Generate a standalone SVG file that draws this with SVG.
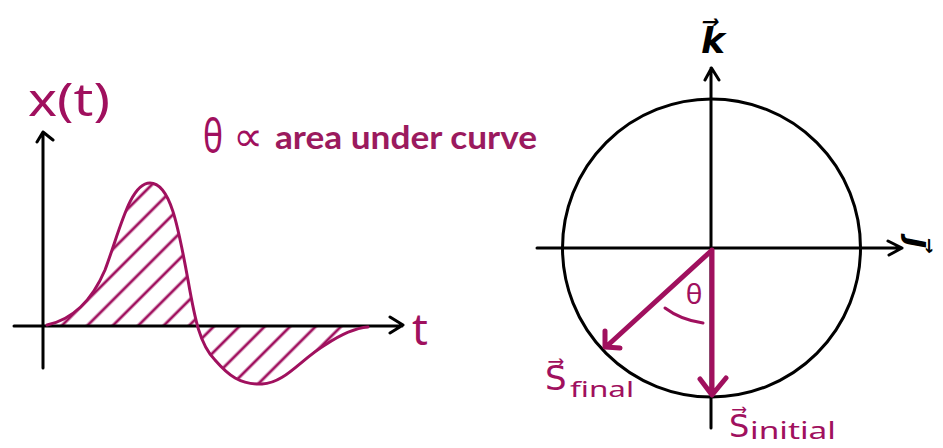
<svg xmlns="http://www.w3.org/2000/svg" width="943" height="448" viewBox="0 0 943 448">
<style>
.ax{stroke:#000;stroke-width:3;fill:none;stroke-linecap:round;stroke-linejoin:round}
.mg{stroke:#A0105E;fill:none;stroke-linecap:round;stroke-linejoin:round}
.hand{font-family:"Noto Sans","DejaVu Sans",sans-serif;fill:#A0105E}
.bold{font-family:Lato,"Open Sans",sans-serif;font-weight:bold;fill:#9B1A5E}
</style>
<defs>
<pattern id="hatch" width="18" height="18" patternUnits="userSpaceOnUse" patternTransform="rotate(45)">
<line x1="4" y1="0" x2="4" y2="18" stroke="#A0105E" stroke-width="2.8"/>
</pattern>
<clipPath id="area">
<path d="M47,325 C70,320 90,305 105,270 C120,230 130,183 150,183 C170,183 178,225 188,280 C195,320 200,345 215,360 C228,375 240,385 262,384 C285,383 300,360 325,345 C340,335 355,328 368,327 L47,326 Z"/>
</clipPath>
</defs>

<g id="graph">
<rect x="40" y="175" width="340" height="220" fill="url(#hatch)" clip-path="url(#area)"/>
<path class="ax" d="M43,368 V132 M37,142 L43,132 L53,140"/>
<path class="ax" d="M14,326 H402 M390,317 L403,325 L390,333"/>
<path class="mg" stroke-width="3" d="M47,325 C70,320 90,305 105,270 C120,230 130,183 150,183 C170,183 178,225 188,280 C195,320 200,345 215,360 C228,375 240,385 262,384 C285,383 300,360 325,345 C340,335 355,328 368,327"/>
<text class="hand" x="28" y="116" font-size="46" textLength="82" lengthAdjust="spacingAndGlyphs">x(t)</text>
<text class="hand" x="412" y="345" font-size="44">t</text>
</g>

<g id="caption">
<text class="hand" x="203" y="153" font-size="48" textLength="20" lengthAdjust="spacingAndGlyphs">θ</text>
<text class="hand" x="233" y="151" font-size="42" textLength="30" lengthAdjust="spacingAndGlyphs">∝</text>
<text class="bold" x="275" y="149" font-size="33" textLength="262" lengthAdjust="spacingAndGlyphs">area under curve</text>
</g>

<g id="sphere">
<circle cx="711.5" cy="248" r="149" class="ax"/>
<path class="ax" d="M711,428 V68 M705,80 L711.5,68 L719,80"/>
<path class="ax" d="M537,248 H902 M888,241 L902,248 L889,255"/>
<text x="713" y="53" font-family="'DejaVu Sans',sans-serif" font-size="36" font-style="italic" font-weight="bold" text-anchor="middle" fill="#000">k⃗</text>
<text transform="translate(908,243) rotate(90)" font-family="'DejaVu Sans',sans-serif" font-size="32" font-style="italic" font-weight="bold" text-anchor="middle" fill="#000">j⃗</text>
</g>

<g id="connectors">
<path class="mg" stroke-width="5" d="M712,250 V394 M700,379 L712,395 L726,378"/>
<path class="mg" stroke-width="5" d="M711,251 L607,346 M605,331 L605,347 L620,348"/>
<path class="mg" stroke-width="3" d="M665,308 Q681,320 703,323"/>
</g>

<g id="labels">
<text class="hand" x="694" y="304" font-size="28" text-anchor="middle">θ</text>
<text class="hand" x="545" y="390" font-size="34">S⃗</text>
<text class="hand" x="570" y="397" font-size="22" textLength="64" lengthAdjust="spacingAndGlyphs">final</text>
<text class="hand" x="729" y="437" font-size="32">S⃗</text>
<text class="hand" x="750" y="439" font-size="24" textLength="86" lengthAdjust="spacingAndGlyphs">initial</text>
</g>
</svg>
